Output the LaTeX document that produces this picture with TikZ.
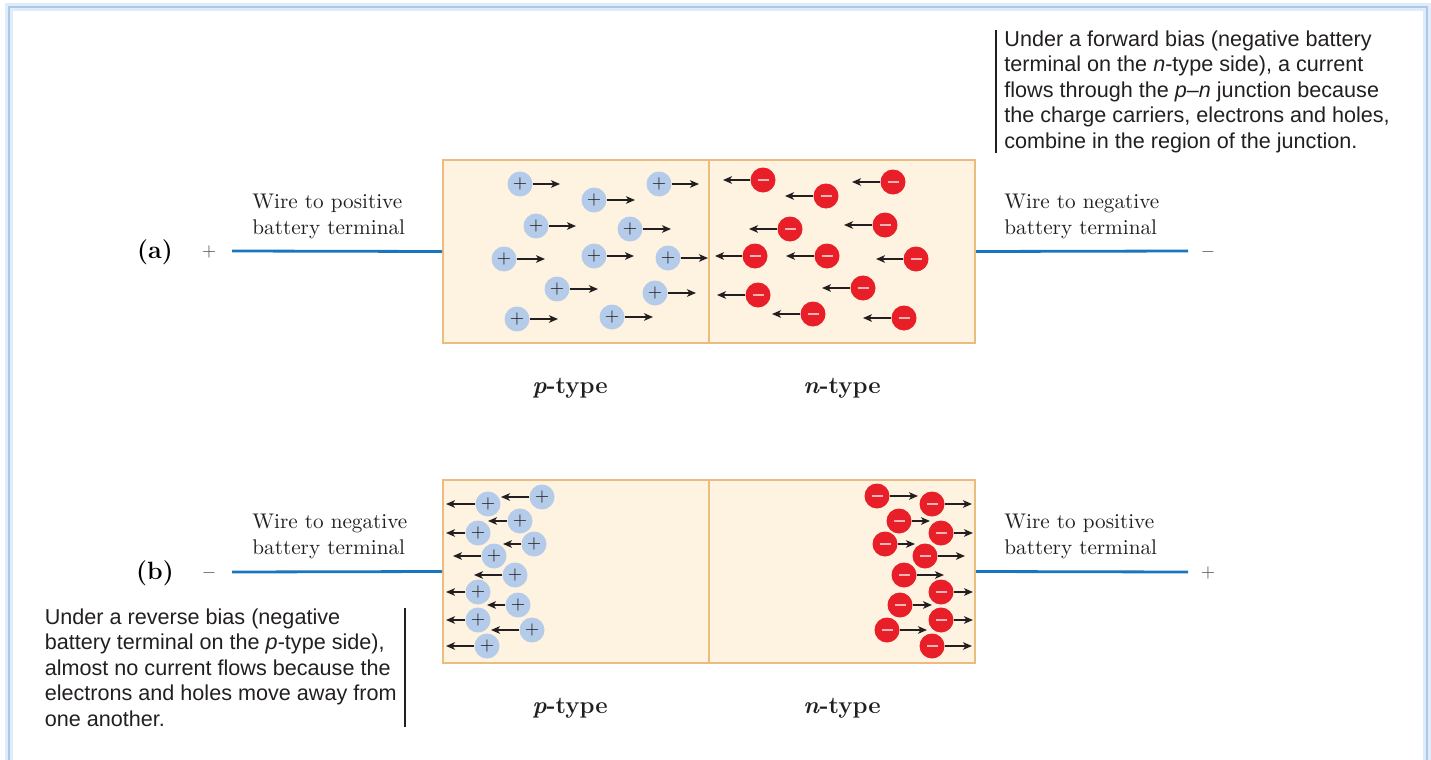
\documentclass[tikz,border=0pt]{standalone}
\usepackage{fontspec}
\newfontfamily\notefont{Liberation Sans}
\usetikzlibrary{arrows.meta,positioning}
\definecolor{wireblue}{HTML}{1B75BC}
\definecolor{slabfill}{HTML}{FEF2E0}
\definecolor{slabedge}{HTML}{EBBC7E}
\definecolor{holeblue}{HTML}{B5CBEA}
\definecolor{elecred}{HTML}{E81F28}
\definecolor{minuspink}{HTML}{F7B4B4}
\definecolor{inkgray}{HTML}{231F20}
\definecolor{signgray}{HTML}{555555}
\definecolor{frameblue}{HTML}{A9C9EA}

\begin{document}
\begin{tikzpicture}[
  x=0.5pt, y=-0.5pt,
  slab/.style={draw=slabedge, fill=slabfill, line width=1pt, minimum width=133pt, minimum height=91.5pt, inner sep=0pt},
  hole/.style={circle, fill=holeblue, minimum size=12.5pt, inner sep=0pt, text=inkgray, font=\fontsize{9}{9}\selectfont},
  electron/.style={circle, fill=elecred, minimum size=12.5pt, inner sep=0pt},
  drift/.style={draw=inkgray, line width=0.7pt, -{Stealth[length=4.5pt,width=3.8pt,inset=1.2pt]}},
  wire/.style={draw=wireblue, line width=1.4pt},
  wirelabel/.style={align=left, anchor=west, inner sep=0pt, text=inkgray, font=\fontsize{10.6}{13}\selectfont},
  typelabel/.style={text=inkgray, font=\fontsize{12}{14}\selectfont},
  partlabel/.style={text=black, font=\fontsize{12.5}{14}\selectfont\bfseries},
  sign/.style={text=signgray, font=\fontsize{9}{9}\selectfont},
  note/.style={align=left, inner xsep=4pt, inner ysep=0pt, text=inkgray, font=\notefont\fontsize{10.8}{12.8}\selectfont},
  notebar/.style={draw=inkgray, line width=0.6pt}
]
\useasboundingbox (0,0) rectangle (1431,760);
% page frame
\draw[frameblue!35, line width=4pt] (9,7) rectangle (1427,800);
\draw[frameblue, line width=1.3pt] (9,7) rectangle (1427,800);

% (a) forward bias
\node[slab] (pa) at (576,251.5) {};
\node[slab] (na) at (842,251.5) {};
\foreach \cx/\cy/\ex [count=\k] in {520/184/560, 594/200/635, 659/184/699, 536/226/576, 630/229/671, 504/259/545, 594/256/634, 668/258/708, 557/289/598, 655/293/696, 517/319/558, 612/317/653} {
  \node[hole] (ha\k) at (\cx,\cy) {$+$};
  \coordinate (hae\k) at (\ex,\cy);
  \draw[drift] (ha\k) -- (hae\k);
}
\foreach \cx/\cy/\ex [count=\k] in {763/180/723, 826/196/785, 893/182/852, 790/229/749, 885/225/844, 755/256/715, 827/256/786, 916/259/876, 758/295/717, 863/288/822, 813/314/772, 904/318/863} {
  \node[electron] (ea\k) at (\cx,\cy) {\textcolor{minuspink}{\rule[-0.4pt]{5.5pt}{0.8pt}}};
  \coordinate (eae\k) at (\ex,\cy);
  \draw[drift] (ea\k) -- (eae\k);
}
\coordinate (awireL) at (232,251);
\coordinate (awireR) at (1188,251);
\draw[wire] (awireL) -- (pa.west);
\draw[wire] (na.east) -- (awireR);
\node[partlabel] (alabel) at (155,252) {(a)};
\node[sign] (aplus) at (209,252) {$+$};
\node[sign] (aminus) at (1208,252) {$-$};
\node[wirelabel] (apos) at (252,216) {Wire to positive\\battery terminal};
\node[wirelabel] (aneg) at (1004,216) {Wire to negative\\battery terminal};
\node[typelabel] (aptype) at (570,388) {\textbf{\textit{p}-type}};
\node[typelabel] (antype) at (842,388) {\textbf{\textit{n}-type}};
\node[note, anchor=north west] (fwdnote) at (996,30) {Under a forward bias (negative battery\\terminal on the \textit{n}-type side), a current\\flows through the \textit{p}–\textit{n} junction because\\the charge carriers, electrons and holes,\\combine in the region of the junction.};
\draw[notebar] (fwdnote.north west) -- (fwdnote.south west);

% (b) reverse bias
\node[slab] (pb) at (576,571.5) {};
\node[slab] (nb) at (842,571.5) {};
\foreach \cx/\cy/\ex [count=\k] in {542/497/501, 488/504/446, 520/521/488, 478/533/446, 534/544/503, 494/556/453, 515/575/474, 478/592/446, 518/605/487, 478/620/446, 532/630/491, 487/646/446} {
  \node[hole] (hb\k) at (\cx,\cy) {$+$};
  \coordinate (hbe\k) at (\ex,\cy);
  \draw[drift] (hb\k) -- (hbe\k);
}
\foreach \cx/\cy/\ex [count=\k] in {877/496/918, 932/504/972, 899/521/930, 941/533/973, 885/544/915, 925/556/965, 904/575/944, 941/592/973, 900/605/932, 941/620/973, 887/630/927, 932/646/972} {
  \node[electron] (eb\k) at (\cx,\cy) {\textcolor{minuspink}{\rule[-0.4pt]{5.5pt}{0.8pt}}};
  \coordinate (ebe\k) at (\ex,\cy);
  \draw[drift] (eb\k) -- (ebe\k);
}
\coordinate (bwireL) at (232,572);
\coordinate (bwireR) at (1188,572);
\draw[wire] (bwireL) -- (pb.west);
\draw[wire] (nb.east) -- (bwireR);
\node[partlabel] (blabel) at (155,573) {(b)};
\node[sign] (bminus) at (209,573) {$-$};
\node[sign] (bplus) at (1208,573) {$+$};
\node[wirelabel] (bneg) at (252,536) {Wire to negative\\battery terminal};
\node[wirelabel] (bpos) at (1004,536) {Wire to positive\\battery terminal};
\node[typelabel] (bptype) at (570,708) {\textbf{\textit{p}-type}};
\node[typelabel] (bntype) at (842,708) {\textbf{\textit{n}-type}};
\node[note, anchor=north east] (revnote) at (405,608) {Under a reverse bias (negative\\battery terminal on the \textit{p}-type side),\\almost no current flows because the\\electrons and holes move away from\\one another.};
\draw[notebar] (revnote.north east) -- (revnote.south east);
\end{tikzpicture}
\end{document}
